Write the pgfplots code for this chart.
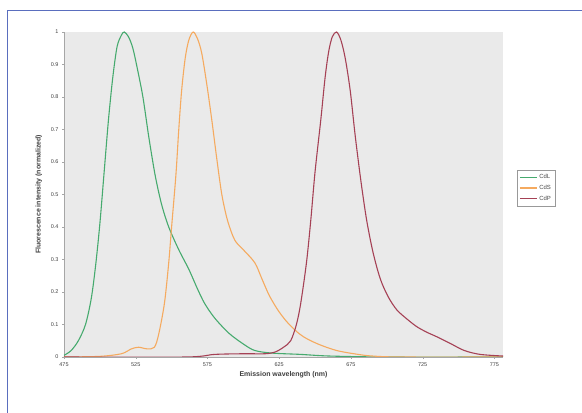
\documentclass[border=0pt]{standalone}
\usepackage{pgfplots}
\pgfplotsset{compat=1.18}
\usepackage{fontspec}
\setmainfont{Liberation Sans}
\definecolor{cgreen}{RGB}{70,170,110}
\definecolor{corange}{RGB}{245,170,95}
\definecolor{cred}{RGB}{165,65,85}
\definecolor{cframe}{RGB}{90,110,190}
\definecolor{plotbg}{RGB}{234,234,234}
\begin{document}
\begin{tikzpicture}
\useasboundingbox (-64bp,-56bp) rectangle (518bp,357bp);
\draw[cframe, line width=0.8pt] (-57bp,-70bp) -- (-57bp,347bp) -- (530bp,347bp);
\begin{axis}[
  at={(0,0)}, anchor=south west,
  scale only axis, width=439bp, height=325bp,
  xmin=475, xmax=781, ymin=0, ymax=1,
  axis lines*=left,
  axis line style={gray!70, line width=0.6pt},
  axis background/.style={fill=plotbg},
  xtick={475,525,...,775},
  ytick={0,0.1,...,1},
  yticklabels={0,0.1,0.2,0.3,0.4,0.5,0.6,0.7,0.8,0.9,1},
  tick style={gray!70},
  major tick length=2pt,
  tick align=outside,
  ticklabel style={font=\fontsize{5.5}{6.5}\selectfont, text=black!75},
  /pgf/number format/assume math mode=true,
  xlabel={Emission wavelength (nm)},
  ylabel={Fluorescence intensity (normalized)},
  label style={font=\fontsize{7}{8}\selectfont\bfseries, text=black!75},
  xlabel style={yshift=2pt},
  ylabel style={yshift=2pt},
  legend style={at={(1.032,0.575)}, anchor=north west, draw=gray!80,
    fill=white, font=\fontsize{6}{7}\selectfont, text=black!70,
    row sep=1pt, inner sep=2pt},
  legend cell align=left,
  every axis plot/.append style={line width=1.1pt},
]
\addplot[cgreen, smooth] coordinates {
 (475,0.005) (480,0.02) (485,0.05) (490,0.10) (494,0.18) (497,0.28) (500,0.41)
 (503,0.57) (506,0.73) (509,0.86) (512,0.955) (515,0.99) (517,1.0) (520,0.985)
 (523,0.95) (526,0.89) (530,0.80) (534,0.68) (538.5,0.56) (543,0.47) (548,0.40)
 (555,0.33) (562,0.27) (568,0.21) (573,0.165) (580,0.12) (590,0.073) (600,0.04)
 (608,0.02) (620,0.012) (640,0.008) (660,0.003) (700,0.0) (781,0.0)};
\addlegendentry{CdL}
\addplot[corange, smooth] coordinates {
 (475,0.0) (500,0.002) (515,0.01) (522,0.025) (527,0.03) (533,0.025) (538,0.03)
 (541,0.07) (545,0.165) (548,0.29) (550,0.40) (553,0.56) (555,0.70) (557,0.82)
 (559.5,0.92) (562,0.975) (565,1.0) (568,0.98) (571,0.935) (574.5,0.84) (578,0.73)
 (581.5,0.61) (585,0.50) (589,0.42) (594,0.36) (600,0.33) (608,0.29) (613,0.24)
 (618,0.19) (624,0.145) (630,0.11) (636,0.083) (642,0.062) (652,0.04) (665,0.02)
 (680,0.008) (690,0.003) (710,0.0) (781,0.0)};
\addlegendentry{CdS}
\addplot[cred, smooth] coordinates {
 (475,0.0) (560,0.0) (580,0.008) (600,0.01) (615,0.01) (622,0.015) (628,0.03)
 (633,0.05) (637,0.10) (640,0.165) (644,0.29) (647,0.42) (650,0.57) (654,0.73)
 (657,0.86) (659.5,0.94) (662,0.985) (665,1.0) (668,0.975) (671,0.92) (674.5,0.82)
 (678,0.68) (682,0.54) (686,0.42) (690.5,0.32) (695.5,0.24) (701,0.185) (707,0.145)
 (714,0.117) (721,0.093) (728,0.076) (735,0.062) (745,0.04) (754,0.02) (765,0.008)
 (781,0.003)};
\addlegendentry{CdP}
\end{axis}
\end{tikzpicture}
\end{document}
